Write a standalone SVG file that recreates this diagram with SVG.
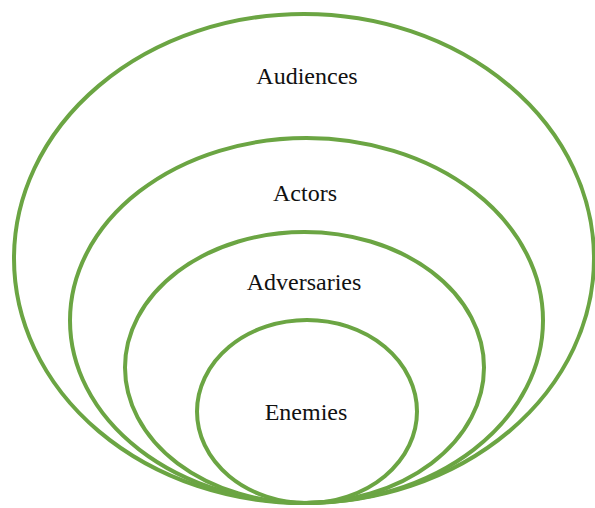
<svg xmlns="http://www.w3.org/2000/svg" width="595" height="508" viewBox="0 0 595 508">
<style>
.ring{fill:none;stroke:#6BA543;stroke-width:4}
.lbl{font-size:24px;fill:#111;text-anchor:middle}
</style>
<rect width="595" height="508" fill="#fff"/>
<g id="audiences">
<ellipse class="ring" cx="304" cy="258.5" rx="290" ry="244.5"/>
<text class="lbl" font-family="Liberation Serif, serif" x="307" y="84">Audiences</text>
</g>
<g id="actors">
<ellipse class="ring" cx="306.5" cy="320.5" rx="236.5" ry="182.5"/>
<text class="lbl" font-family="Liberation Serif, serif" x="305" y="201">Actors</text>
</g>
<g id="adversaries">
<ellipse class="ring" cx="304.5" cy="367.5" rx="179.5" ry="135.5"/>
<text class="lbl" font-family="Liberation Serif, serif" x="304" y="290">Adversaries</text>
</g>
<g id="enemies">
<ellipse class="ring" cx="307" cy="411.5" rx="110" ry="91.5"/>
<text class="lbl" font-family="Liberation Serif, serif" x="306" y="420">Enemies</text>
</g>
<g id="connectors"></g>
</svg>
